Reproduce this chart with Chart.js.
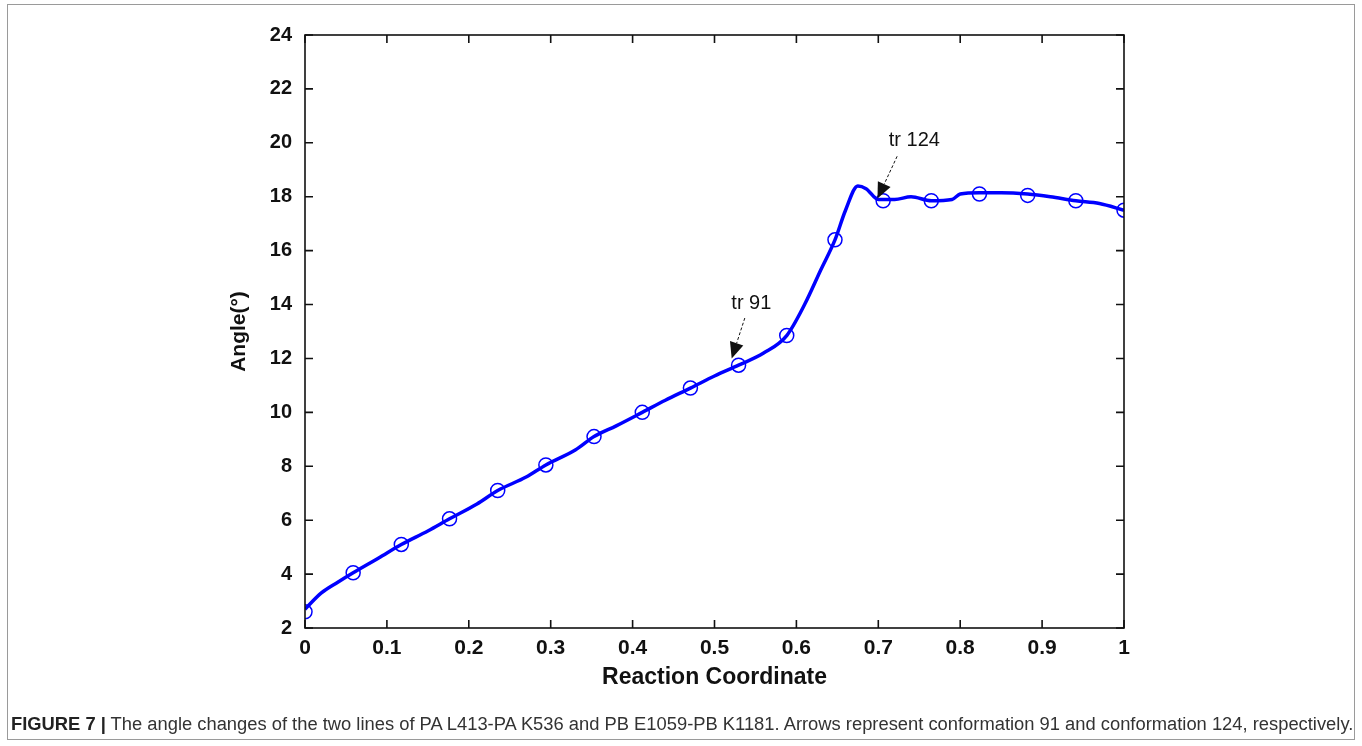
<!DOCTYPE html>
<html>
<head>
<meta charset="utf-8">
<script src="https://cdn.jsdelivr.net/npm/chart.js@4.4.1/dist/chart.umd.min.js"></script>
<style>
  html, body { margin: 0; padding: 0; background: #fff; }
  #wrap { position: relative; width: 1362px; height: 746px; overflow: hidden; }
  #frame { position: absolute; left: 7px; top: 4px; width: 1348px; height: 736px; border: 1px solid #9a9a9a; box-sizing: border-box; }
  #cv { position: absolute; left: 0; top: 0; }
  #caption { position: absolute; left: 11px; top: 713px; font-family: "Liberation Sans", Arial, sans-serif; font-size: 18.35px; color: #333; white-space: nowrap; }
  #caption b { color: #222; }
</style>
</head>
<body>
<div id="wrap">
  <div id="frame"></div>
  <canvas id="cv" width="1362" height="746"></canvas>
  <div id="caption"><b>FIGURE 7 |</b> The angle changes of the two lines of PA L413-PA K536 and PB E1059-PB K1181. Arrows represent conformation 91 and conformation 124, respectively.</div>
</div>
<script>
// ---- data ----
const curveX = [0, 0.02, 0.04, 0.0588, 0.09, 0.1176, 0.15, 0.1765, 0.21, 0.2353, 0.27, 0.2941, 0.33, 0.3529, 0.38, 0.4118, 0.44, 0.4706, 0.50, 0.5294, 0.56, 0.5882, 0.61, 0.63, 0.6471, 0.66, 0.675, 0.685, 0.70, 0.72, 0.74, 0.7647, 0.79, 0.80, 0.8235, 0.85, 0.8824, 0.91, 0.9412, 0.97, 1.0];
const curveY = [2.7, 3.3, 3.7, 4.05, 4.6, 5.1, 5.6, 6.05, 6.6, 7.1, 7.6, 8.05, 8.6, 9.1, 9.5, 10.0, 10.45, 10.9, 11.35, 11.75, 12.2, 12.85, 14.0, 15.3, 16.4, 17.5, 18.4, 18.3, 17.9, 17.9, 18.0, 17.85, 17.9, 18.1, 18.15, 18.15, 18.1, 18.0, 17.85, 17.75, 17.5];
const markerX = [0, 0.0588, 0.1176, 0.1765, 0.2353, 0.2941, 0.3529, 0.4118, 0.4706, 0.5294, 0.5882, 0.6471, 0.7059, 0.7647, 0.8235, 0.8824, 0.9412, 1.0];
const markerY = [2.6, 4.05, 5.1, 6.05, 7.1, 8.05, 9.1, 10.0, 10.9, 11.75, 12.85, 16.4, 17.85, 17.85, 18.1, 18.05, 17.85, 17.5];
const xTicks = [0, 0.1, 0.2, 0.3, 0.4, 0.5, 0.6, 0.7, 0.8, 0.9, 1];
const yTicks = [2, 4, 6, 8, 10, 12, 14, 16, 18, 20, 22, 24];
const annLabels = ["tr 91", "tr 124"];
const annText = [[0.545, 14.05], [0.744, 20.1]];
const annFrom = [[0.537, 13.5], [0.723, 19.5]];
const annTo = [[0.521, 12.0], [0.699, 17.93]];

const BLUE = '#0000ff';
const curveData = curveX.map((x, i) => ({x, y: curveY[i]}));
const markerData = markerX.map((x, i) => ({x, y: markerY[i]}));

const framePlugin = {
  id: 'matlabFrame',
  afterDatasetsDraw(chart) {
    const {ctx, chartArea: a, scales: {x, y}} = chart;
    ctx.save();
    ctx.strokeStyle = '#111';
    ctx.lineWidth = 1.6;
    ctx.strokeRect(a.left, a.top, a.right - a.left, a.bottom - a.top);
    const tl = 8;
    ctx.beginPath();
    xTicks.forEach(v => {
      const px = x.getPixelForValue(v);
      ctx.moveTo(px, a.bottom); ctx.lineTo(px, a.bottom - tl);
      ctx.moveTo(px, a.top); ctx.lineTo(px, a.top + tl);
    });
    yTicks.forEach(v => {
      const py = y.getPixelForValue(v);
      ctx.moveTo(a.left, py); ctx.lineTo(a.left + tl, py);
      ctx.moveTo(a.right, py); ctx.lineTo(a.right - tl, py);
    });
    ctx.stroke();

    // annotations
    ctx.fillStyle = '#111';
    ctx.font = '20px "Liberation Sans", Arial, sans-serif';
    ctx.textAlign = 'center';
    ctx.textBaseline = 'middle';
    annLabels.forEach((t, i) => {
      ctx.fillText(t, x.getPixelForValue(annText[i][0]), y.getPixelForValue(annText[i][1]));
      const x1 = x.getPixelForValue(annFrom[i][0]), y1 = y.getPixelForValue(annFrom[i][1]);
      const x2 = x.getPixelForValue(annTo[i][0]), y2 = y.getPixelForValue(annTo[i][1]);
      const ang = Math.atan2(y2 - y1, x2 - x1);
      const hl = 16, hw = 7;
      const bx = x2 - hl * Math.cos(ang), by = y2 - hl * Math.sin(ang);
      ctx.setLineDash([3, 2]);
      ctx.lineWidth = 1;
      ctx.beginPath();
      ctx.moveTo(x1, y1); ctx.lineTo(bx, by);
      ctx.stroke();
      ctx.setLineDash([]);
      ctx.beginPath();
      ctx.moveTo(x2, y2);
      ctx.lineTo(bx + hw * Math.sin(ang), by - hw * Math.cos(ang));
      ctx.lineTo(bx - hw * Math.sin(ang), by + hw * Math.cos(ang));
      ctx.closePath();
      ctx.fill();
    });
    ctx.restore();
  }
};

new Chart(document.getElementById('cv'), {
  type: 'scatter',
  data: {
    datasets: [
      {
        data: curveData, showLine: true, borderColor: BLUE, borderWidth: 3.5,
        pointRadius: 0, cubicInterpolationMode: 'monotone', order: 2
      },
      {
        data: markerData, showLine: false, borderColor: BLUE, backgroundColor: 'rgba(0,0,0,0)',
        pointRadius: 7, pointBorderWidth: 1.5, pointStyle: 'circle', order: 1
      }
    ]
  },
  options: {
    responsive: false,
    animation: false,
    events: [],
    layout: { padding: { left: 227, right: 238, top: 35, bottom: 55 } },
    plugins: { legend: { display: false }, tooltip: { enabled: false } },
    scales: {
      x: {
        type: 'linear', min: 0, max: 1,
        afterBuildTicks: s => { s.ticks = xTicks.map(v => ({value: v})); },
        afterFit: s => { s.height = 63; },
        grid: { display: false, drawTicks: false },
        border: { display: false },
        ticks: {
          padding: 8, color: '#111',
          font: { family: '"Liberation Sans", Arial, sans-serif', size: 21, weight: 'bold' },
          callback: v => String(v)
        },
        title: {
          display: true, text: 'Reaction Coordinate', color: '#111', padding: 0,
          font: { family: '"Liberation Sans", Arial, sans-serif', size: 23, weight: 'bold' }
        }
      },
      y: {
        type: 'linear', min: 2, max: 24,
        afterBuildTicks: s => { s.ticks = yTicks.map(v => ({value: v})); },
        afterFit: s => { s.width = 78; },
        grid: { display: false, drawTicks: false },
        border: { display: false },
        ticks: {
          padding: 13, color: '#111',
          font: { family: '"Liberation Sans", Arial, sans-serif', size: 20, weight: 'bold' }
        },
        title: {
          display: true, text: 'Angle(°)', color: '#111', padding: 0,
          font: { family: '"Liberation Sans", Arial, sans-serif', size: 21, weight: 'bold' }
        }
      }
    }
  },
  plugins: [framePlugin]
});
</script>
</body>
</html>
